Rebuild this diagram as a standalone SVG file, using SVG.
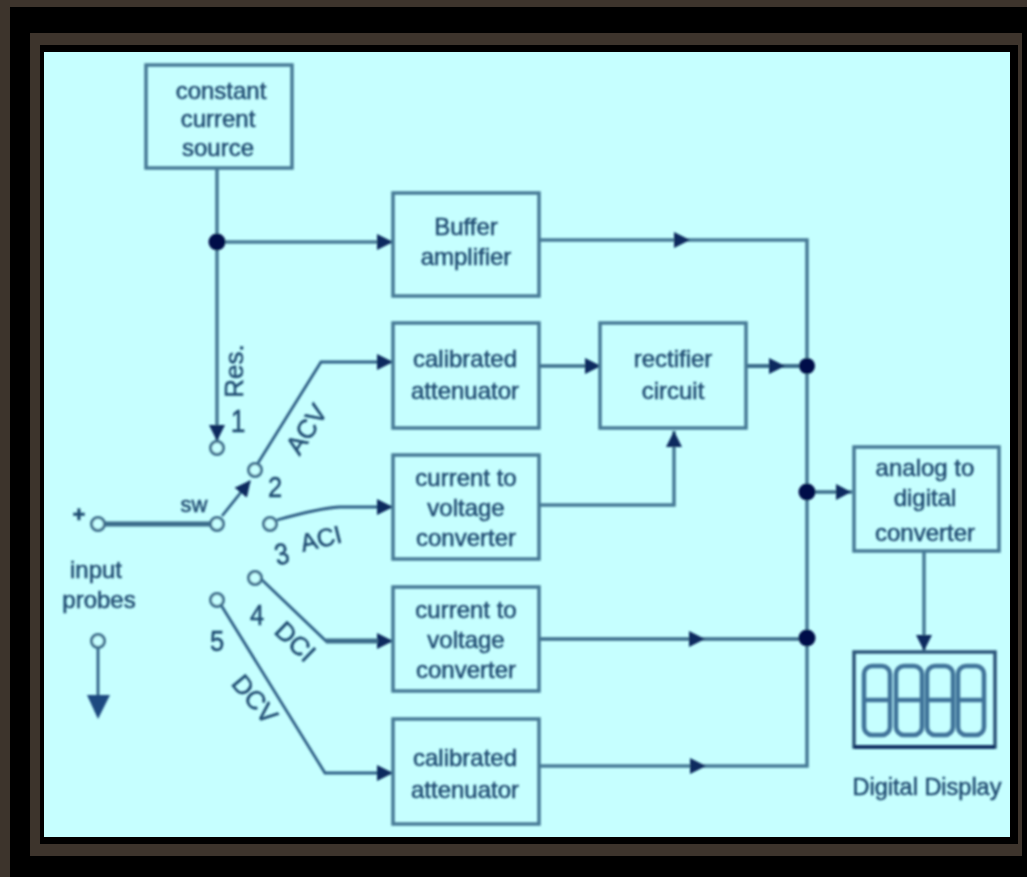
<svg xmlns="http://www.w3.org/2000/svg" width="1027" height="877" viewBox="0 0 1027 877">
<defs>
<marker id="arr" viewBox="0 0 16 16" refX="15" refY="8" markerWidth="16" markerHeight="16" markerUnits="userSpaceOnUse" orient="auto"><path d="M0 0L16 8L0 16Z" fill="#0d2a5e"/></marker>
<filter id="soft" x="-5%" y="-5%" width="110%" height="110%"><feGaussianBlur stdDeviation="1.1"/></filter>
</defs>
<style>
.box{fill:none;stroke:#467a96;stroke-width:3.5}
.w{fill:none;stroke:#467a96;stroke-width:3.5}
.t{fill:none;stroke:#2f5f85;stroke-width:2.8}
.th{fill:none;stroke:#3a6c8a;stroke-width:5}
.mid{fill:#0d2a5e}
.dot{fill:#04104a}
.term{fill:#c6ffff;stroke:#3f6f8d;stroke-width:3}
text{font-family:"Liberation Sans",Arial,sans-serif;font-size:24px;fill:#1f4a70;stroke:#1f4a70;stroke-width:.5;text-anchor:middle}
.seg{fill:none;stroke:#41739a;stroke-width:4.5}
</style>
<rect width="1027" height="877" fill="#000"/>
<rect x="0" y="0" width="1027" height="7" fill="#3d342c"/>
<rect x="0" y="0" width="10" height="877" fill="#3d342c"/>
<rect x="30" y="33" width="992" height="823" fill="#3d342c"/>
<rect x="40" y="45" width="978" height="799" fill="#000"/>
<rect x="44" y="52" width="966" height="785" fill="#c6ffff"/>
<g filter="url(#soft)">
<g id="connectors">
<path class="w" d="M217 168V440" marker-end="url(#arr)"/>
<path class="w" d="M217 242H392" marker-end="url(#arr)"/>
<path class="w" d="M539 240H807V766H539"/>
<path class="mid" d="M674 232L690 240L674 248Z"/>
<path class="t" d="M258 463L321 362H392" marker-end="url(#arr)"/>
<path class="t" d="M222 516L250 481" marker-end="url(#arr)"/>
<path class="th" d="M104 524H212"/>
<path class="t" d="M277 520Q320 508 340 507H392" marker-end="url(#arr)"/>
<path class="t" d="M260 578L326 641H392" marker-end="url(#arr)"/>
<path class="th" d="M326 641H378"/>
<path class="t" d="M221 605L325 773H392" marker-end="url(#arr)"/>
<path class="th" d="M539 366H600" style="stroke-width:3.5"/>
<path class="mid" d="M585 358L601 366L585 374Z"/>
<path class="th" d="M746 366H807" style="stroke-width:4"/>
<path class="mid" d="M769 358L785 366L769 374Z"/>
<path class="w" d="M539 505H674V431"/>
<path class="mid" d="M666 447L674 431L682 447Z"/>
<path class="th" d="M539 639H807" style="stroke-width:3.5"/>
<path class="mid" d="M689 631L705 639L689 647Z"/>
<path class="mid" d="M690 758L706 766L690 774Z"/>
<path class="th" d="M807 492H852" style="stroke-width:3.5"/>
<path class="mid" d="M836 484L851 492L836 500Z"/>
<path class="w" d="M924 552V650" marker-end="url(#arr)"/>
<path class="t" d="M98 648V695"/>
<path class="mid" d="M87 695H110L98 719Z" style="fill:#1f4a80"/>
<circle class="dot" cx="217" cy="242" r="8.5"/>
<circle class="dot" cx="807" cy="366" r="8"/>
<circle class="dot" cx="807" cy="492" r="8.5"/>
<circle class="dot" cx="807" cy="638" r="8.5"/>
</g>
<g id="terminals">
<circle class="term" cx="98" cy="524" r="6.5"/>
<circle class="term" cx="98" cy="641" r="6.5"/>
<circle class="term" cx="217" cy="448" r="6.5"/>
<circle class="term" cx="255" cy="470" r="6.5"/>
<circle class="term" cx="217" cy="524" r="6.5"/>
<circle class="term" cx="270" cy="524" r="6.5"/>
<circle class="term" cx="255" cy="578" r="6.5"/>
<circle class="term" cx="217" cy="600" r="6.5"/>
</g>
<g id="n-source"><rect class="box" x="146" y="65" width="146" height="103"/><text x="221" y="99">constant</text><text x="218" y="127">current</text><text x="218" y="156">source</text></g>
<g id="n-buffer"><rect class="box" x="393" y="193" width="146" height="103"/><text x="466" y="235">Buffer</text><text x="466" y="265">amplifier</text></g>
<g id="n-att1"><rect class="box" x="393" y="323" width="146" height="105"/><text x="465" y="367">calibrated</text><text x="465" y="399">attenuator</text></g>
<g id="n-rect"><rect class="box" x="600" y="323" width="146" height="105"/><text x="673" y="367">rectifier</text><text x="673" y="399">circuit</text></g>
<g id="n-cv1"><rect class="box" x="393" y="455" width="146" height="104"/><text x="466" y="486">current to</text><text x="466" y="516">voltage</text><text x="466" y="546">converter</text></g>
<g id="n-cv2"><rect class="box" x="393" y="587" width="146" height="104"/><text x="466" y="618">current to</text><text x="466" y="648">voltage</text><text x="466" y="678">converter</text></g>
<g id="n-att2"><rect class="box" x="393" y="719" width="146" height="105"/><text x="465" y="766">calibrated</text><text x="465" y="798">attenuator</text></g>
<g id="n-adc"><rect class="box" x="854" y="447" width="145" height="104"/><text x="925" y="476">analog to</text><text x="925" y="506">digital</text><text x="925" y="541">converter</text></g>
<g id="n-display">
<rect class="box" x="854" y="652" width="141" height="95" style="stroke:#2b5579;stroke-width:3.5"/>
<path d="M854 747H995" style="stroke:#0d2a5e;stroke-width:3.5"/>
<rect class="seg" x="864" y="666" width="26" height="69" rx="8"/><path class="seg" d="M864 700H890"/>
<rect class="seg" x="896" y="666" width="26" height="69" rx="8"/><path class="seg" d="M896 700H922"/>
<rect class="seg" x="927" y="666" width="26" height="69" rx="8"/><path class="seg" d="M927 700H953"/>
<rect class="seg" x="958" y="666" width="26" height="69" rx="8"/><path class="seg" d="M958 700H984"/>
<text x="927" y="795" style="font-size:23.5px">Digital Display</text>
</g>
<g id="labels">
<text transform="translate(243 371) rotate(-90)" style="font-size:26px">Res.</text>
<text transform="translate(238 432) scale(.85 1)" style="font-size:31px">1</text>
<text transform="translate(275 497) scale(.85 1)" style="font-size:30px">2</text>
<text transform="translate(284 564) rotate(-12) scale(.85 1)" style="font-size:30px">3</text>
<text transform="translate(257 625) scale(.85 1)" style="font-size:30px">4</text>
<text transform="translate(217 651) scale(.85 1)" style="font-size:30px">5</text>
<text transform="translate(314 434) rotate(-57)" style="font-size:26px">ACV</text>
<text transform="translate(323 547) rotate(-14)" style="font-size:25px">ACI</text>
<text transform="translate(289 648) rotate(44)" style="font-size:26px">DCI</text>
<text transform="translate(248 705) rotate(50)" style="font-size:26px">DCV</text>
<text x="194" y="512" style="font-size:22px">sw</text>
<text x="79" y="522" style="font-size:22px;font-weight:bold">+</text>
<text x="96" y="578">input</text>
<text x="99" y="608">probes</text>
</g>
</g>
</svg>
